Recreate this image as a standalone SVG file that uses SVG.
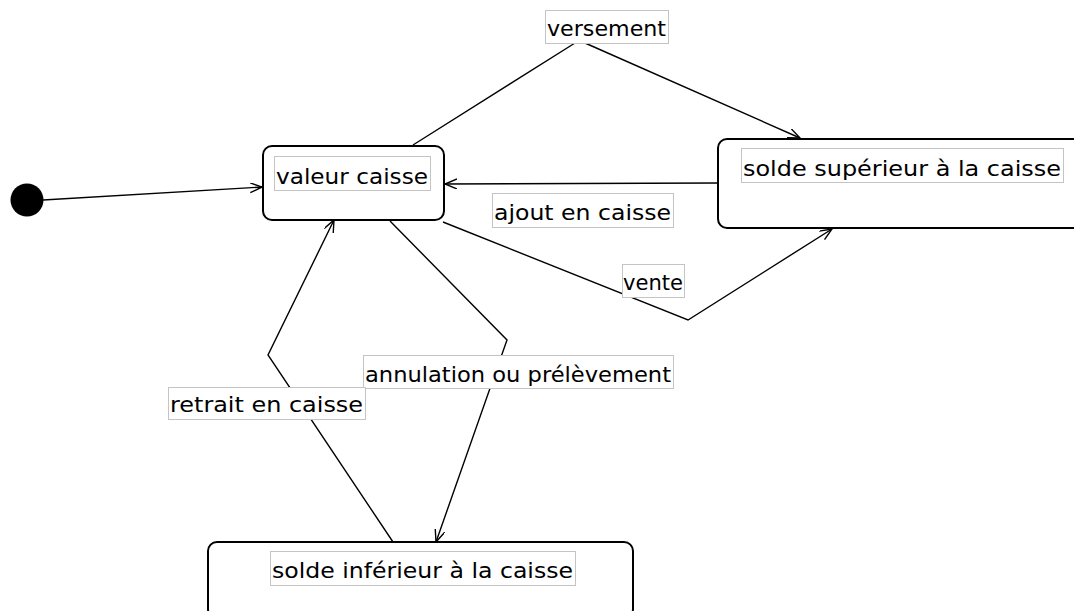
<svg xmlns="http://www.w3.org/2000/svg" width="1074" height="611" viewBox="0 0 1074 611">
<style>
.node{fill:#fff;stroke:#000;stroke-width:2}
.edge{fill:none;stroke:#000;stroke-width:1.4}
.lbl{fill:#fff;stroke:#c4c4c4;stroke-width:1}
.t{font-family:"DejaVu Sans","Liberation Sans",sans-serif;font-size:21px;fill:#000}
</style>
<defs>
<marker id="arr" markerUnits="userSpaceOnUse" markerWidth="14" markerHeight="12" refX="12" refY="5" orient="auto">
<path d="M0,0 L12,5 L0,10" fill="none" stroke="#000" stroke-width="1.4"/>
</marker>
</defs>
<rect width="1074" height="611" fill="#fff"/>
<g id="connectors">
<path class="edge" d="M43,200 L262,187" marker-end="url(#arr)"/>
<path class="edge" d="M413,145 L575,43 M585,43 L800,138" marker-end="url(#arr)"/>
<path class="edge" d="M718,183 L445,184" marker-end="url(#arr)"/>
<path class="edge" d="M443,222 L688,320 L832,229" marker-end="url(#arr)"/>
<path class="edge" d="M390,221 L507,340 L436,542" marker-end="url(#arr)"/>
<path class="edge" d="M393,542 L268,355 L334,220" marker-end="url(#arr)"/>
<g id="lbl-versement"><rect class="lbl" x="545.5" y="10.5" width="123" height="33"/><text class="t" x="547" y="36" textLength="119" lengthAdjust="spacingAndGlyphs">versement</text></g>
<g id="lbl-ajout"><rect class="lbl" x="492.5" y="193.5" width="181" height="34"/><text class="t" x="494" y="220" textLength="177" lengthAdjust="spacingAndGlyphs">ajout en caisse</text></g>
<g id="lbl-vente"><rect class="lbl" x="622.5" y="264.5" width="62" height="33"/><text class="t" x="623" y="290" textLength="60" lengthAdjust="spacingAndGlyphs">vente</text></g>
<g id="lbl-annulation"><rect class="lbl" x="363.5" y="355.5" width="310" height="33"/><text class="t" x="365" y="382" textLength="306" lengthAdjust="spacingAndGlyphs">annulation ou prélèvement</text></g>
<g id="lbl-retrait"><rect class="lbl" x="168.5" y="387.5" width="197" height="32"/><text class="t" x="170" y="412" textLength="193" lengthAdjust="spacingAndGlyphs">retrait en caisse</text></g>
</g>
<g id="initial"><circle cx="27" cy="200" r="16.5" fill="#000"/></g>
<g id="valeur-caisse">
<rect class="node" x="263" y="146" width="181" height="74" rx="9"/>
<rect class="lbl" x="274.5" y="156.5" width="156" height="34"/>
<text class="t" x="276" y="184" textLength="152" lengthAdjust="spacingAndGlyphs">valeur caisse</text>
</g>
<g id="solde-superieur">
<rect class="node" x="718" y="139" width="400" height="89" rx="9"/>
<rect class="lbl" x="741.5" y="148.5" width="322" height="34"/>
<text class="t" x="743" y="176" textLength="318" lengthAdjust="spacingAndGlyphs">solde supérieur à la caisse</text>
</g>
<g id="solde-inferieur">
<rect class="node" x="208" y="542" width="425" height="76" rx="9"/>
<rect class="lbl" x="270.5" y="551.5" width="305" height="34"/>
<text class="t" x="272" y="578" textLength="301" lengthAdjust="spacingAndGlyphs">solde inférieur à la caisse</text>
</g>
</svg>
